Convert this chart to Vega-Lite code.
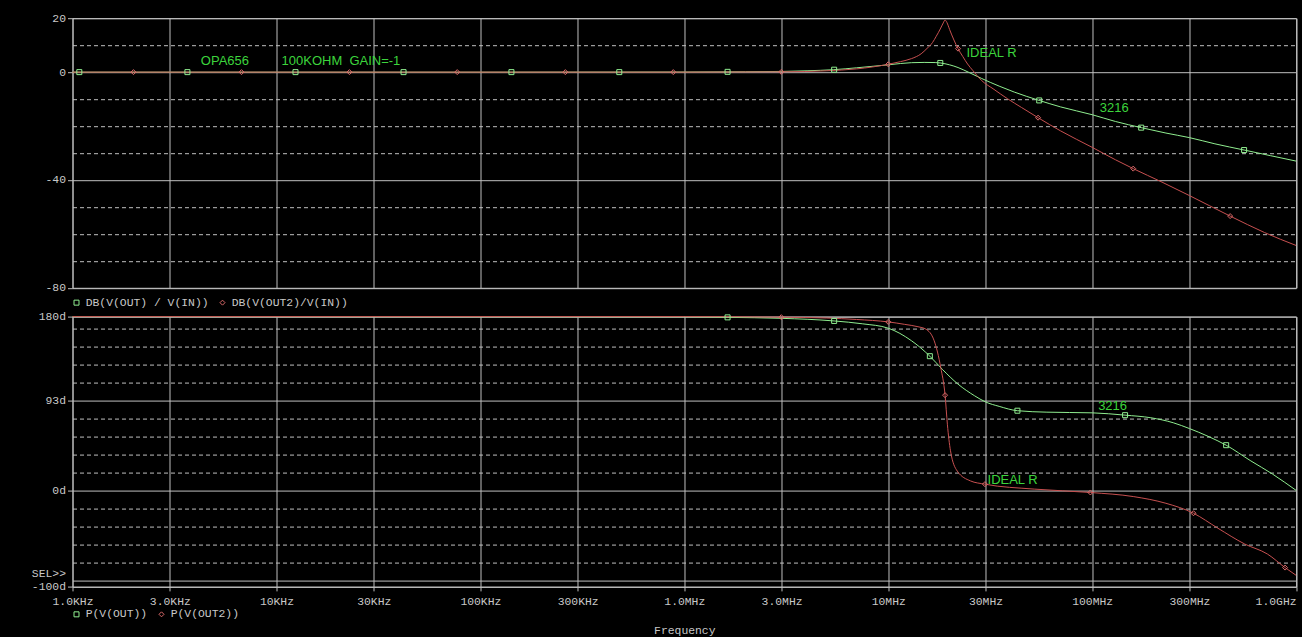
{
  "$schema": "https://vega.github.io/schema/vega-lite/v6.json",
  "background": "#000000",
  "padding": {"left": 30.5, "top": 11.2, "right": 2.7, "bottom": 0},
  "bounds": "flush",
  "spacing": 28.4,
  "config": {
    "font": "Liberation Mono",
    "view": {"stroke": "#c0c0c0", "strokeWidth": 1},
    "axis": {
      "labelFont": "Liberation Mono", "labelFontSize": 11.4, "labelColor": "#c8c8c8",
      "tickColor": "#c0c0c0", "gridColor": "#c0c0c0", "gridOpacity": 1, "gridWidth": 1,
      "domain": false, "titleFont": "Liberation Mono", "titleFontWeight": "normal",
      "titleColor": "#c8c8c8", "titleFontSize": 11.4, "labelOverlap": false,
      "labelBound": false, "labelFlush": false, "tickCount": 200
    }
  },
  "datasets": {
    "magG": [
      {"f": 1000, "db": 0}, {"f": 100000, "db": 0}, {"f": 1000000, "db": 0.05}, {"f": 2000000, "db": 0.15},
      {"f": 3000000, "db": 0.25}, {"f": 4000000, "db": 0.5}, {"f": 5400000, "db": 0.9}, {"f": 7000000, "db": 1.6},
      {"f": 8500000, "db": 2.2}, {"f": 10000000, "db": 2.7}, {"f": 11500000, "db": 3.2}, {"f": 13000000, "db": 3.5},
      {"f": 15000000, "db": 3.6}, {"f": 17000000, "db": 3.55}, {"f": 18000000, "db": 3.4}, {"f": 20000000, "db": 2.7},
      {"f": 22000000, "db": 1.7}, {"f": 25000000, "db": -0.2}, {"f": 28600000, "db": -2.3}, {"f": 35000000, "db": -5.2},
      {"f": 41500000, "db": -7.4}, {"f": 55000000, "db": -10.5}, {"f": 70000000, "db": -12.9}, {"f": 100000000, "db": -15.8},
      {"f": 130000000, "db": -18.3}, {"f": 174000000, "db": -20.6}, {"f": 230000000, "db": -22.6}, {"f": 300000000, "db": -24.3},
      {"f": 400000000, "db": -26.6}, {"f": 556000000, "db": -28.9}, {"f": 750000000, "db": -31.0}, {"f": 1000000000, "db": -33.0}
    ],
    "magR": [
      {"f": 1000, "db": 0}, {"f": 1000000, "db": 0}, {"f": 3000000, "db": 0.1}, {"f": 5000000, "db": 0.5},
      {"f": 7000000, "db": 1.2}, {"f": 10000000, "db": 2.9}, {"f": 11500000, "db": 3.9}, {"f": 13000000, "db": 5.0},
      {"f": 14500000, "db": 6.8}, {"f": 15500000, "db": 8.8}, {"f": 16500000, "db": 11.0}, {"f": 17200000, "db": 13.3},
      {"f": 18000000, "db": 16.0}, {"f": 18600000, "db": 18.2}, {"f": 19000000, "db": 19.3}, {"f": 19400000, "db": 18.4},
      {"f": 20000000, "db": 15.8}, {"f": 21000000, "db": 11.9}, {"f": 22000000, "db": 8.7}, {"f": 23200000, "db": 5.8},
      {"f": 24500000, "db": 3.0}, {"f": 26000000, "db": 0.6}, {"f": 28600000, "db": -3.0}, {"f": 33000000, "db": -6.4},
      {"f": 38500000, "db": -9.9}, {"f": 45000000, "db": -13.1}, {"f": 54300000, "db": -16.9}, {"f": 70000000, "db": -21.8},
      {"f": 100000000, "db": -27.9}, {"f": 130000000, "db": -32.5}, {"f": 159000000, "db": -35.8}, {"f": 220000000, "db": -40.8},
      {"f": 300000000, "db": -45.8}, {"f": 475000000, "db": -53.4}, {"f": 700000000, "db": -59.5}, {"f": 1000000000, "db": -64.3}
    ],
    "magMk": [
      {"f": 1080, "db": 0, "series": "DB(V(OUT) / V(IN))"}, {"f": 3660, "db": 0, "series": "DB(V(OUT) / V(IN))"},
      {"f": 12400, "db": 0, "series": "DB(V(OUT) / V(IN))"}, {"f": 42000, "db": 0, "series": "DB(V(OUT) / V(IN))"},
      {"f": 142000, "db": 0, "series": "DB(V(OUT) / V(IN))"}, {"f": 480000, "db": 0, "series": "DB(V(OUT) / V(IN))"},
      {"f": 1630000, "db": 0.1, "series": "DB(V(OUT) / V(IN))"}, {"f": 5430000, "db": 0.9, "series": "DB(V(OUT) / V(IN))"},
      {"f": 18000000, "db": 3.4, "series": "DB(V(OUT) / V(IN))"}, {"f": 55000000, "db": -10.5, "series": "DB(V(OUT) / V(IN))"},
      {"f": 174000000, "db": -20.6, "series": "DB(V(OUT) / V(IN))"}, {"f": 556000000, "db": -28.9, "series": "DB(V(OUT) / V(IN))"},
      {"f": 1990, "db": 0, "series": "DB(V(OUT2)/V(IN))"}, {"f": 6740, "db": 0, "series": "DB(V(OUT2)/V(IN))"},
      {"f": 22800, "db": 0, "series": "DB(V(OUT2)/V(IN))"}, {"f": 77000, "db": 0, "series": "DB(V(OUT2)/V(IN))"},
      {"f": 261000, "db": 0, "series": "DB(V(OUT2)/V(IN))"}, {"f": 883000, "db": 0, "series": "DB(V(OUT2)/V(IN))"},
      {"f": 2990000, "db": 0.1, "series": "DB(V(OUT2)/V(IN))"}, {"f": 10000000, "db": 2.9, "series": "DB(V(OUT2)/V(IN))"},
      {"f": 22000000, "db": 8.7, "series": "DB(V(OUT2)/V(IN))"}, {"f": 54300000, "db": -16.9, "series": "DB(V(OUT2)/V(IN))"},
      {"f": 159000000, "db": -35.8, "series": "DB(V(OUT2)/V(IN))"}, {"f": 475000000, "db": -53.4, "series": "DB(V(OUT2)/V(IN))"}
    ],
    "phG": [
      {"f": 1000, "deg": 180}, {"f": 1000000, "deg": 179.8}, {"f": 1630000, "deg": 179.2}, {"f": 3000000, "deg": 178.2},
      {"f": 5430000, "deg": 175.5}, {"f": 7500000, "deg": 172.5}, {"f": 10000000, "deg": 168}, {"f": 13000000, "deg": 155},
      {"f": 16000000, "deg": 139}, {"f": 18400000, "deg": 125.5}, {"f": 22000000, "deg": 110}, {"f": 26500000, "deg": 98},
      {"f": 30000000, "deg": 91.6}, {"f": 35000000, "deg": 87}, {"f": 43000000, "deg": 82.5}, {"f": 60000000, "deg": 81},
      {"f": 100000000, "deg": 80.3}, {"f": 145000000, "deg": 77.9}, {"f": 194000000, "deg": 75.2}, {"f": 250000000, "deg": 70},
      {"f": 300000000, "deg": 64}, {"f": 370000000, "deg": 56}, {"f": 454000000, "deg": 46.8}, {"f": 600000000, "deg": 30.5},
      {"f": 766000000, "deg": 16.9}, {"f": 1000000000, "deg": 0}
    ],
    "phR": [
      {"f": 1000, "deg": 180}, {"f": 1000000, "deg": 180}, {"f": 3000000, "deg": 179.4}, {"f": 5000000, "deg": 178.5},
      {"f": 7000000, "deg": 177}, {"f": 10000000, "deg": 174.5}, {"f": 12000000, "deg": 172}, {"f": 14000000, "deg": 169.5},
      {"f": 15300000, "deg": 167}, {"f": 16800000, "deg": 155}, {"f": 18100000, "deg": 127}, {"f": 19000000, "deg": 98.6},
      {"f": 19500000, "deg": 68.5}, {"f": 20200000, "deg": 41}, {"f": 21800000, "deg": 20}, {"f": 25300000, "deg": 9.8},
      {"f": 29800000, "deg": 6.4}, {"f": 52000000, "deg": 1.3}, {"f": 98000000, "deg": -2.2}, {"f": 160000000, "deg": -6.5},
      {"f": 230000000, "deg": -13.4}, {"f": 314000000, "deg": -23.7}, {"f": 412000000, "deg": -39}, {"f": 560000000, "deg": -55.6},
      {"f": 724000000, "deg": -66}, {"f": 883000000, "deg": -80}, {"f": 1000000000, "deg": -88}
    ],
    "phMk": [
      {"f": 1630000, "deg": 179.2, "series": "P(V(OUT))"}, {"f": 5430000, "deg": 175.5, "series": "P(V(OUT))"},
      {"f": 16000000, "deg": 139, "series": "P(V(OUT))"}, {"f": 43000000, "deg": 82.5, "series": "P(V(OUT))"},
      {"f": 145000000, "deg": 77.9, "series": "P(V(OUT))"}, {"f": 454000000, "deg": 46.8, "series": "P(V(OUT))"},
      {"f": 2990000, "deg": 179.4, "series": "P(V(OUT2))"}, {"f": 10000000, "deg": 174.5, "series": "P(V(OUT2))"},
      {"f": 19000000, "deg": 98.6, "series": "P(V(OUT2))"}, {"f": 29800000, "deg": 6.4, "series": "P(V(OUT2))"},
      {"f": 98000000, "deg": -2.2, "series": "P(V(OUT2))"}, {"f": 314000000, "deg": -23.7, "series": "P(V(OUT2))"},
      {"f": 883000000, "deg": -80, "series": "P(V(OUT2))"}
    ],
    "notesTop": [
      {"f": 4260, "db": 4.2, "text": "OPA656"},
      {"f": 10600, "db": 4.2, "text": "100KOHM\u00a0 GAIN=-1"},
      {"f": 24200000, "db": 7.2, "text": "IDEAL R"},
      {"f": 109000000, "db": -13.2, "text": "3216"}
    ],
    "notesBot": [
      {"f": 107000000, "deg": 87.8, "text": "3216"},
      {"f": 30700000, "deg": 10.5, "text": "IDEAL R"}
    ]
  },
  "vconcat": [
    {
      "width": 1223.6,
      "height": 269.6,
      "layer": [
        {
          "data": {"name": "magG"},
          "mark": {"type": "line", "interpolate": "monotone", "strokeWidth": 1, "color": "#90ee90"},
          "encoding": {
            "x": {"field": "f", "type": "quantitative",
              "scale": {"type": "log", "domain": [1000, 1000000000], "nice": false},
              "axis": {"values": [1000, 3000, 10000, 30000, 100000, 300000, 1000000, 3000000, 10000000, 30000000, 100000000, 300000000, 1000000000],
                "tickCount": 200, "labels": false, "ticks": false, "grid": true, "title": null}},
            "y": {"field": "db", "type": "quantitative",
              "scale": {"domain": [-80, 20], "nice": false, "zero": false},
              "axis": {"values": [20, 10, 0, -10, -20, -30, -40, -50, -60, -70, -80], "tickCount": 200,
                "labelExpr": "datum.value == 20 ? '20' : datum.value == 0 ? '0' : datum.value == -40 ? '-40' : datum.value == -80 ? '-80' : ''",
                "tickSize": 5, "labelPadding": 2, "title": null,
                "tickOpacity": {"condition": {"test": "indexof([20, 0, -40, -80], datum.value) >= 0", "value": 1}, "value": 0},
                "gridDash": {"condition": {"test": "indexof([20, 0, -40, -80], datum.value) >= 0", "value": []}, "value": [4, 3]}}}
          }
        },
        {
          "data": {"name": "magR"},
          "mark": {"type": "line", "interpolate": "monotone", "strokeWidth": 1, "color": "#c85050"},
          "encoding": {
            "x": {"field": "f", "type": "quantitative"},
            "y": {"field": "db", "type": "quantitative"}
          }
        },
        {
          "data": {"name": "magMk"},
          "mark": {"type": "point", "filled": false, "strokeWidth": 1, "size": 25, "opacity": 1},
          "encoding": {
            "x": {"field": "f", "type": "quantitative"},
            "y": {"field": "db", "type": "quantitative"},
            "color": {"field": "series", "type": "nominal",
              "scale": {"domain": ["DB(V(OUT) / V(IN))", "DB(V(OUT2)/V(IN))"], "range": ["#90ee90", "#d86868"]},
              "legend": {"orient": "none", "legendX": -1.7, "legendY": 278.3, "direction": "horizontal", "title": null,
                "labelFont": "Liberation Mono", "labelFontSize": 11.4, "labelColor": "#c8c8c8",
                "symbolSize": 25, "symbolStrokeWidth": 1, "labelOffset": 3.5, "columnPadding": 8, "padding": 0}},
            "shape": {"field": "series", "type": "nominal",
              "scale": {"domain": ["DB(V(OUT) / V(IN))", "DB(V(OUT2)/V(IN))"], "range": ["square", "diamond"]},
              "legend": {"orient": "none", "legendX": -1.7, "legendY": 278.3, "direction": "horizontal", "title": null,
                "labelFont": "Liberation Mono", "labelFontSize": 11.4, "labelColor": "#c8c8c8",
                "symbolSize": 25, "symbolStrokeWidth": 1, "labelOffset": 3.5, "columnPadding": 8, "padding": 0}}
          }
        },
        {
          "data": {"name": "notesTop"},
          "mark": {"type": "text", "align": "left", "baseline": "middle", "font": "Liberation Sans", "fontSize": 13, "color": "#3cd43c"},
          "encoding": {
            "x": {"field": "f", "type": "quantitative"},
            "y": {"field": "db", "type": "quantitative"},
            "text": {"field": "text", "type": "nominal"}
          }
        }
      ]
    },
    {
      "width": 1223.6,
      "height": 270.3,
      "layer": [
        {
          "data": {"name": "phG"},
          "mark": {"type": "line", "interpolate": "monotone", "strokeWidth": 1, "color": "#90ee90"},
          "encoding": {
            "x": {"field": "f", "type": "quantitative",
              "scale": {"type": "log", "domain": [1000, 1000000000], "nice": false},
              "axis": {"values": [1000, 3000, 10000, 30000, 100000, 300000, 1000000, 3000000, 10000000, 30000000, 100000000, 300000000, 1000000000],
                "tickCount": 200,
                "labelExpr": "datum.value < 2000 ? '1.0KHz' : datum.value < 5000 ? '3.0KHz' : datum.value < 20000 ? '10KHz' : datum.value < 50000 ? '30KHz' : datum.value < 200000 ? '100KHz' : datum.value < 500000 ? '300KHz' : datum.value < 2000000 ? '1.0MHz' : datum.value < 5000000 ? '3.0MHz' : datum.value < 20000000 ? '10MHz' : datum.value < 50000000 ? '30MHz' : datum.value < 200000000 ? '100MHz' : datum.value < 500000000 ? '300MHz' : '1.0GHz'",
                "labelAlign": {"condition": {"test": "datum.value > 500000000", "value": "right"}, "value": "center"},
                "labelBaseline": "middle", "labelPadding": 11, "tickSize": 4, "grid": true,
                "title": "Frequency", "titleY": 44, "titleBaseline": "middle"}},
            "y": {"field": "deg", "type": "quantitative",
              "scale": {"domain": [-100, 180], "nice": false, "zero": false},
              "axis": {"values": [180, 167.4, 148.8, 130.2, 111.6, 93, 74.4, 55.8, 37.2, 18.6, 0, -18.6, -37.2, -55.8, -74.4, -86.2, -93, -100],
                "tickCount": 200,
                "labelExpr": "datum.value == 180 ? '180d' : datum.value == 93 ? '93d' : datum.value == 0 ? '0d' : datum.value == -100 ? '-100d' : datum.value == -86.2 ? 'SEL>>' : ''",
                "tickSize": 5, "labelPadding": 2, "title": null,
                "tickOpacity": {"condition": {"test": "indexof([180, 93, 0, -100], datum.value) >= 0", "value": 1}, "value": 0},
                "gridOpacity": {"condition": {"test": "datum.value == -86.2", "value": 0}, "value": 1},
                "gridDash": {"condition": {"test": "indexof([180, 93, 0, -93, -100], datum.value) >= 0", "value": []}, "value": [4, 3]}}}
          }
        },
        {
          "data": {"name": "phR"},
          "mark": {"type": "line", "interpolate": "monotone", "strokeWidth": 1, "color": "#c85050"},
          "encoding": {
            "x": {"field": "f", "type": "quantitative"},
            "y": {"field": "deg", "type": "quantitative"}
          }
        },
        {
          "data": {"name": "phMk"},
          "mark": {"type": "point", "filled": false, "strokeWidth": 1, "size": 25, "opacity": 1},
          "encoding": {
            "x": {"field": "f", "type": "quantitative"},
            "y": {"field": "deg", "type": "quantitative"},
            "color": {"field": "series", "type": "nominal",
              "scale": {"domain": ["P(V(OUT))", "P(V(OUT2))"], "range": ["#90ee90", "#d86868"]},
              "legend": {"orient": "none", "legendX": -1.7, "legendY": 291.6, "direction": "horizontal", "title": null,
                "labelFont": "Liberation Mono", "labelFontSize": 11.4, "labelColor": "#c8c8c8",
                "symbolSize": 25, "symbolStrokeWidth": 1, "labelOffset": 3.5, "columnPadding": 8, "padding": 0}},
            "shape": {"field": "series", "type": "nominal",
              "scale": {"domain": ["P(V(OUT))", "P(V(OUT2))"], "range": ["square", "diamond"]},
              "legend": {"orient": "none", "legendX": -1.7, "legendY": 291.6, "direction": "horizontal", "title": null,
                "labelFont": "Liberation Mono", "labelFontSize": 11.4, "labelColor": "#c8c8c8",
                "symbolSize": 25, "symbolStrokeWidth": 1, "labelOffset": 3.5, "columnPadding": 8, "padding": 0}}
          }
        },
        {
          "data": {"name": "notesBot"},
          "mark": {"type": "text", "align": "left", "baseline": "middle", "font": "Liberation Sans", "fontSize": 13, "color": "#3cd43c"},
          "encoding": {
            "x": {"field": "f", "type": "quantitative"},
            "y": {"field": "deg", "type": "quantitative"},
            "text": {"field": "text", "type": "nominal"}
          }
        }
      ]
    }
  ],
  "resolve": {"scale": {"color": "independent", "shape": "independent", "x": "independent", "y": "independent"}}
}
